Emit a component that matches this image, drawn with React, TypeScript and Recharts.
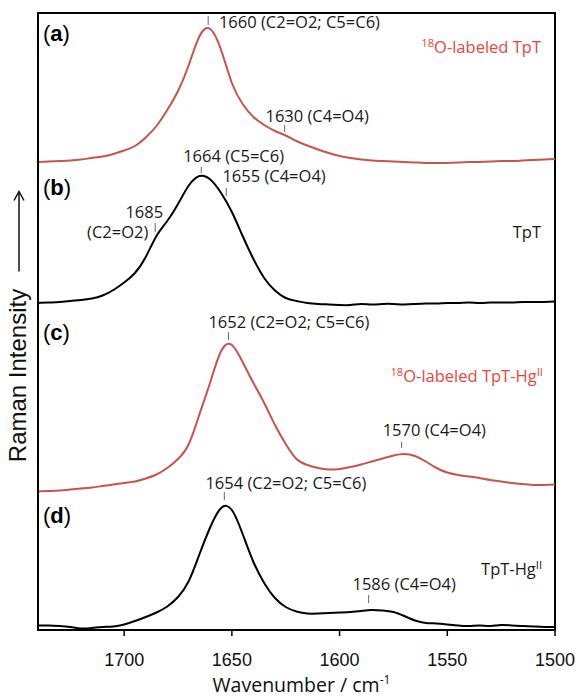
import React from "react";
import {
  LineChart,
  Line,
  XAxis,
  YAxis,
  ReferenceArea,
  ReferenceLine,
  ReferenceDot,
} from "recharts";

// Wavenumber grid (cm-1)
const wavenumbers = [
  1740, 1735, 1730, 1725, 1720, 1715, 1710, 1705, 1700, 1695, 1690, 1685, 1680,
  1675, 1670, 1665, 1660, 1655, 1650, 1645, 1640, 1635, 1630, 1625, 1620, 1615,
  1610, 1605, 1600, 1595, 1590, 1585, 1580, 1575, 1570, 1565, 1560, 1555, 1550,
  1545, 1540, 1535, 1530, 1525, 1520, 1515, 1510, 1505, 1500,
];

// (a) 18O-labeled TpT (offset-stacked intensity, arb. units)
const tptO18 = [
  468, 468.5, 469, 469.5, 470.5, 472, 473.5, 476, 479.5, 484, 492.5, 504, 520,
  539, 565, 594, 601, 580, 547, 526, 513, 505, 499, 494.5, 489, 484.5, 480.5,
  477, 474, 472, 470.5, 469.5, 469, 468.5, 468, 467.5, 467, 467, 467, 467.5,
  468, 468, 468.5, 469, 469, 469.5, 470, 470.5, 471,
];

// (b) TpT
const tpt = [
  327, 327.5, 328, 329, 330, 331.5, 334.5, 340, 347.5, 357, 373, 394, 409, 426,
  444.5, 454, 450.5, 437, 418, 394, 371, 352, 339.5, 332, 329, 327, 326, 325.5,
  325, 325, 326, 325.5, 326, 326, 325.5, 326, 326.5, 326.5, 327, 327, 327.5,
  327, 327.5, 327.5, 327.5, 328, 328, 328, 328.5,
];

// (c) 18O-labeled TpT-HgII
const tptHgO18 = [
  138.5, 139, 139.5, 140.5, 141.5, 142.5, 144, 145.5, 147, 148.5, 151.5, 155.5,
  162, 171, 186, 216, 248, 279, 285, 268, 247, 227, 205, 186, 171, 165, 162,
  160.5, 161, 163, 165.5, 168.5, 171.5, 174.5, 176, 174, 168.5, 162, 157.5, 155,
  153.5, 152, 150, 148.5, 147, 146, 145, 145, 145.5,
];

// (d) TpT-HgII
const tptHg = [
  4.5, 4.5, 4, 3, 1.5, 2, 3, 3.5, 5.5, 9, 13, 17.5, 23.5, 33, 49, 76, 103, 122,
  120, 96, 68, 47, 32, 23, 18.5, 16.5, 16.5, 17, 17.5, 18, 19, 20, 19.5, 18, 14,
  9.5, 7, 6.5, 5.5, 4.5, 4, 4.5, 4, 5, 4.5, 4, 3.5, 3, 3,
];

const xTicks = [1700, 1650, 1600, 1550, 1500];

// Peak annotations: label text, label anchor (wavenumber, intensity), marker wavenumber and span
const peakNotes = [
  { text: "1660 (C2=O2; C5=C6)", tx: 1656, ty: 608, anchor: "start", mx: 1661, my1: 605, my2: 614 },
  { text: "1630 (C4=O4)", tx: 1634.4, ty: 514, anchor: "start", mx: 1625.5, my1: 498, my2: 505 },
  { text: "1664 (C5=C6)", tx: 1672.6, ty: 474, anchor: "start", mx: 1664.2, my1: 457, my2: 463 },
  { text: "1655 (C4=O4)", tx: 1654.4, ty: 454, anchor: "start", mx: 1652.6, my1: 434, my2: 442 },
  { text: "1685", tx: 1681.9, ty: 418, anchor: "end", mx: 1685.6, my1: 398, my2: 407 },
  { text: "(C2=O2)", tx: 1688.8, ty: 398, anchor: "end", mx: null, my1: 0, my2: 0 },
  { text: "1652 (C2=O2; C5=C6)", tx: 1660.9, ty: 308, anchor: "start", mx: 1651.6, my1: 290, my2: 298 },
  { text: "1570 (C4=O4)", tx: 1580, ty: 200, anchor: "start", mx: 1571.2, my1: 182, my2: 188 },
  { text: "1654 (C2=O2; C5=C6)", tx: 1662.3, ty: 147, anchor: "start", mx: 1653.5, my1: 130, my2: 138 },
  { text: "1586 (C4=O4)", tx: 1594, ty: 46, anchor: "start", mx: 1586.5, my1: 27, my2: 35 },
];

// Sample labels (right aligned)
const sampleLabels = [
  { parts: [{ t: "18", sup: true }, { t: "O-labeled TpT" }], x: 1506.5, y: 577, red: true },
  { parts: [{ t: "TpT" }], x: 1506.5, y: 392, red: false },
  { parts: [{ t: "18", sup: true }, { t: "O-labeled TpT-Hg" }, { t: "II", sup: true }], x: 1505.6, y: 248, red: true },
  { parts: [{ t: "TpT-Hg" }, { t: "II", sup: true }], x: 1506, y: 55, red: false },
];

// Panel letters
const panelLetters = [
  { letter: "a", x: 1737.7, y: 597 },
  { letter: "b", x: 1737.7, y: 443 },
  { letter: "c", x: 1737.7, y: 298 },
  { letter: "d", x: 1737.7, y: 115 },
];

const rows = wavenumbers.map((w, i) => ({
  w,
  a: tptO18[i],
  b: tpt[i],
  c: tptHgO18[i],
  d: tptHg[i],
}));

const RED_LINE = "#c9534d";
const RED_TEXT = "#e8473b";
const NOTE_FONT = "'Open Sans', 'Noto Sans', sans-serif";
const ARIAL = "'Liberation Sans', Arial, sans-serif";

function renderParts(parts: { t: string; sup?: boolean }[], fontSize: number) {
  const out: any[] = [];
  let shifted = false;
  parts.forEach((p, i) => {
    if (p.sup) {
      out.push(
        <tspan key={i} dy={shifted ? 0 : -6} fontSize={fontSize * 0.68}>
          {p.t}
        </tspan>
      );
      shifted = true;
    } else {
      out.push(
        <tspan key={i} dy={shifted ? 6 : 0}>
          {p.t}
        </tspan>
      );
      shifted = false;
    }
  });
  return out;
}

const YLabel = (props: any) => {
  const vb = props.viewBox || { x: 0, y: 13, width: 38, height: 617 };
  const cy = vb.y + vb.height / 2;
  const tx = vb.x + 26;
  const ax = vb.x + 19;
  const textY = cy + 54;
  const aTop = cy - 130;
  const aBot = cy - 50;
  return (
    <g>
      <text
        x={tx}
        y={textY}
        transform={`rotate(-90, ${tx}, ${textY})`}
        textAnchor="middle"
        fontFamily={ARIAL}
        fontSize={24}
        fill="#111"
      >
        Raman Intensity
      </text>
      <line x1={ax} y1={aBot} x2={ax} y2={aTop + 1} stroke="#111" strokeWidth={1.5} />
      <polyline
        points={`${ax - 5},${aTop + 9} ${ax},${aTop} ${ax + 5},${aTop + 9}`}
        fill="none"
        stroke="#111"
        strokeWidth={1.5}
      />
    </g>
  );
};

const XLabel = (props: any) => {
  const vb = props.viewBox || { x: 38, y: 630, width: 517, height: 40 };
  const cx = vb.x + vb.width / 2 + 5;
  const y = vb.y + 62;
  return (
    <text x={cx} y={y} textAnchor="middle" fontFamily={NOTE_FONT} fontSize={19.5} fill="#111">
      <tspan>Wavenumber / cm</tspan>
      <tspan dy={-8} fontSize={12}>
        -1
      </tspan>
    </text>
  );
};

export default function App() {
  return (
    <div style={{ position: "absolute", left: 0, top: 0, background: "#fff" }}>
      <LineChart
        width={578}
        height={697}
        data={rows}
        margin={{ top: 13, right: 23, bottom: 27, left: 0 }}
      >
        <XAxis
          dataKey="w"
          type="number"
          domain={[1500, 1740]}
          reversed
          allowDataOverflow
          ticks={xTicks}
          height={40}
          tickSize={6}
          tickMargin={17}
          axisLine={{ stroke: "#000", strokeWidth: 2 }}
          tickLine={{ stroke: "#000", strokeWidth: 1.5 }}
          tick={{ fontSize: 18, fontFamily: ARIAL, fill: "#111" }}
          label={<XLabel />}
        />
        <YAxis
          type="number"
          domain={[0, 617]}
          allowDataOverflow
          width={38}
          tick={false}
          tickLine={false}
          axisLine={{ stroke: "#000", strokeWidth: 2 }}
          label={<YLabel />}
        />
        <ReferenceArea
          x1={1740}
          x2={1500}
          y1={0}
          y2={617}
          fill="none"
          fillOpacity={0}
          stroke="#000"
          strokeWidth={2}
        />
        <Line dataKey="a" type="natural" stroke={RED_LINE} strokeWidth={2} dot={false} isAnimationActive={false} />
        <Line dataKey="b" type="natural" stroke="#000" strokeWidth={2} dot={false} isAnimationActive={false} />
        <Line dataKey="c" type="natural" stroke={RED_LINE} strokeWidth={2} dot={false} isAnimationActive={false} />
        <Line dataKey="d" type="natural" stroke="#000" strokeWidth={2} dot={false} isAnimationActive={false} />

        {peakNotes
          .filter((n) => n.mx !== null)
          .map((n, i) => (
            <ReferenceLine
              key={`m${i}`}
              segment={[
                { x: n.mx as number, y: n.my1 },
                { x: n.mx as number, y: n.my2 },
              ]}
              stroke="#666"
              strokeWidth={1}
            />
          ))}
        {peakNotes.map((n, i) => (
          <ReferenceDot
            key={`t${i}`}
            x={n.tx}
            y={n.ty}
            r={1}
            shape={(p: any) => (
              <text
                x={p.cx}
                y={p.cy}
                dy="0.36em"
                textAnchor={n.anchor as any}
                fontFamily={NOTE_FONT}
                fontSize={16.5}
                fill="#1a1a1a"
              >
                {n.text}
              </text>
            )}
          />
        ))}
        {sampleLabels.map((s, i) => (
          <ReferenceDot
            key={`s${i}`}
            x={s.x}
            y={s.y}
            r={1}
            shape={(p: any) => (
              <text
                x={p.cx}
                y={p.cy}
                dy="0.36em"
                textAnchor="end"
                fontFamily={NOTE_FONT}
                fontSize={16.5}
                fill={s.red ? RED_TEXT : "#1a1a1a"}
              >
                {renderParts(s.parts, 16.5)}
              </text>
            )}
          />
        ))}
        {panelLetters.map((l, i) => (
          <ReferenceDot
            key={`p${i}`}
            x={l.x}
            y={l.y}
            r={1}
            shape={(p: any) => (
              <text
                x={p.cx}
                y={p.cy}
                dy="0.36em"
                textAnchor="start"
                fontFamily={ARIAL}
                fontSize={22}
                fill="#000"
              >
                <tspan>(</tspan>
                <tspan fontWeight="bold">{l.letter}</tspan>
                <tspan>)</tspan>
              </text>
            )}
          />
        ))}
      </LineChart>
    </div>
  );
}
